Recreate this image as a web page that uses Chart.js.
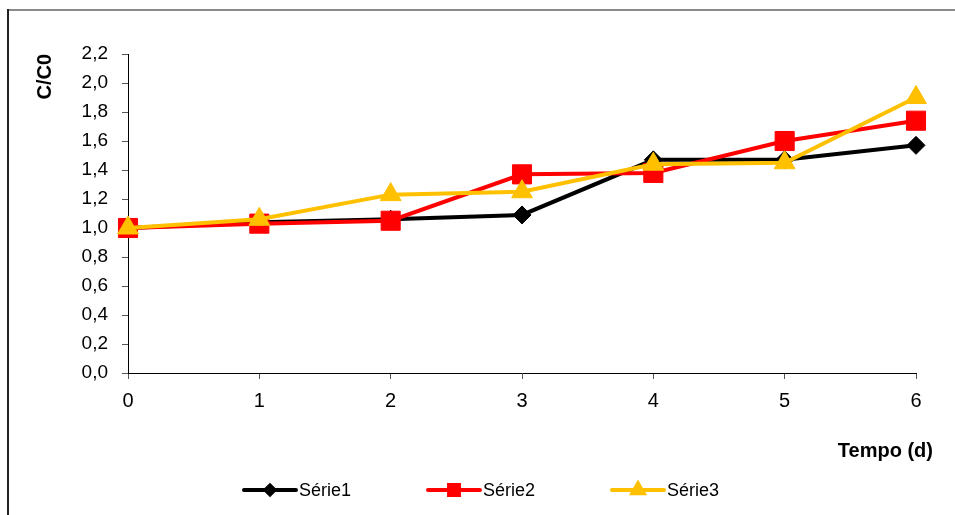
<!DOCTYPE html>
<html>
<head>
<meta charset="utf-8">
<script src="https://cdn.jsdelivr.net/npm/chart.js@4.4.1/dist/chart.umd.min.js"></script>
<style>
  html, body { margin: 0; padding: 0; background: #fff; }
  #wrap { width: 955px; height: 515px; position: relative; }
</style>
</head>
<body>
<div id="wrap"><canvas id="c" width="955" height="515"></canvas></div>
<script>
// Days of the experiment (x axis)
const days = ['0', '1', '2', '3', '4', '5', '6'];

// C/C0 ratio for each series
const serie1 = [1.00, 1.04, 1.06, 1.09, 1.47, 1.47, 1.57];
const serie2 = [1.00, 1.03, 1.05, 1.37, 1.38, 1.60, 1.74];
const serie3 = [1.00, 1.06, 1.23, 1.25, 1.44, 1.45, 1.90];

const seriesNames = ['Série1', 'Série2', 'Série3'];
const xTitle = 'Tempo (d)';
const yTitle = 'C/C0';

const FONT = "'Liberation Sans', Arial, Helvetica, sans-serif";

// White background plus the outer frame (top and left edges)
const framePlugin = {
  id: 'frame',
  beforeDraw(chart) {
    const ctx = chart.ctx;
    ctx.save();
    ctx.fillStyle = '#fff';
    ctx.fillRect(0, 0, chart.width, chart.height);
    ctx.lineWidth = 2;
    ctx.strokeStyle = '#8a8a8a';
    ctx.beginPath();
    ctx.moveTo(8, 10);
    ctx.lineTo(chart.width, 10);
    ctx.stroke();
    ctx.strokeStyle = '#222';
    ctx.beginPath();
    ctx.moveTo(8, 9);
    ctx.lineTo(8, chart.height);
    ctx.stroke();
    ctx.restore();
  }
};

// Horizontal axis title, placed below the tick labels at the right end
const xTitlePlugin = {
  id: 'xTitle',
  afterDraw(chart) {
    const ctx = chart.ctx;
    const area = chart.chartArea;
    ctx.save();
    ctx.font = 'bold 20px ' + FONT;
    ctx.fillStyle = '#000';
    ctx.textAlign = 'right';
    ctx.textBaseline = 'middle';
    ctx.fillText(xTitle, area.right + 17, 451);
    ctx.restore();
  }
};

// Legend: short line with the series marker in its middle, then the name
const lineLegendPlugin = {
  id: 'lineLegend',
  afterDraw(chart) {
    const ctx = chart.ctx;
    const y = 490;
    const startX = 244;
    const step = 184;
    const lineLen = 52;
    ctx.save();
    chart.data.datasets.forEach((ds, i) => {
      const x0 = startX + i * step;
      ctx.strokeStyle = ds.borderColor;
      ctx.lineWidth = 4;
      ctx.lineCap = 'round';
      ctx.beginPath();
      ctx.moveTo(x0, y);
      ctx.lineTo(x0 + lineLen, y);
      ctx.stroke();
      ctx.fillStyle = ds.pointBackgroundColor;
      ctx.strokeStyle = ds.pointBorderColor;
      Chart.helpers.drawPoint(ctx, {
        pointStyle: ds.pointStyle,
        radius: ds.legendRadius,
        rotation: 0,
        borderWidth: 1
      }, x0 + lineLen / 2, y);
      ctx.fillStyle = '#000';
      ctx.font = '18px ' + FONT;
      ctx.textAlign = 'left';
      ctx.textBaseline = 'middle';
      ctx.fillText(ds.label, x0 + lineLen + 3, y + 1);
    });
    ctx.restore();
  }
};

function makeSeries(label, values, color, style, radius, legendRadius, order) {
  return {
    label: label,
    data: values,
    borderColor: color,
    backgroundColor: color,
    pointBackgroundColor: color,
    pointBorderColor: color,
    pointStyle: style,
    pointRadius: radius,
    pointHoverRadius: radius,
    pointBorderWidth: 1,
    borderWidth: 4,
    tension: 0,
    fill: false,
    order: order,
    legendRadius: legendRadius
  };
}

new Chart(document.getElementById('c'), {
  type: 'line',
  data: {
    labels: days,
    datasets: [
      makeSeries(seriesNames[0], serie1, '#000000', 'rectRot', 9, 4.5, 3),
      makeSeries(seriesNames[1], serie2, '#ff0000', 'rect', 13.5, 7, 2),
      makeSeries(seriesNames[2], serie3, '#ffc000', 'triangle', 12, 6.5, 1)
    ]
  },
  options: {
    responsive: false,
    animation: false,
    events: [],
    layout: { padding: { left: 0, right: 39, top: 54, bottom: 0 } },
    plugins: {
      legend: { display: false },
      tooltip: { enabled: false },
      title: { display: false }
    },
    scales: {
      x: {
        type: 'category',
        offset: false,
        afterFit(scale) { scale.height = 142; },
        grid: {
          drawOnChartArea: false,
          drawTicks: true,
          tickLength: 6,
          tickColor: '#555'
        },
        border: { display: true, color: '#000', width: 1 },
        ticks: {
          color: '#000',
          padding: 10,
          maxRotation: 0,
          font: { family: FONT, size: 20 }
        }
      },
      y: {
        min: 0,
        max: 2.2,
        afterFit(scale) { scale.width = 128; },
        grid: {
          drawOnChartArea: false,
          drawTicks: true,
          tickLength: 6,
          tickColor: '#555'
        },
        border: { display: true, color: '#000', width: 1 },
        ticks: {
          stepSize: 0.2,
          color: '#000',
          padding: 14,
          font: { family: FONT, size: 19 },
          callback: (v) => v.toFixed(1).replace('.', ',')
        },
        title: {
          display: true,
          text: yTitle,
          align: 'end',
          color: '#000',
          font: { family: FONT, size: 20, weight: 'bold' },
          padding: { top: 33, bottom: 0 }
        }
      }
    }
  },
  plugins: [framePlugin, xTitlePlugin, lineLegendPlugin]
});
</script>
</body>
</html>
